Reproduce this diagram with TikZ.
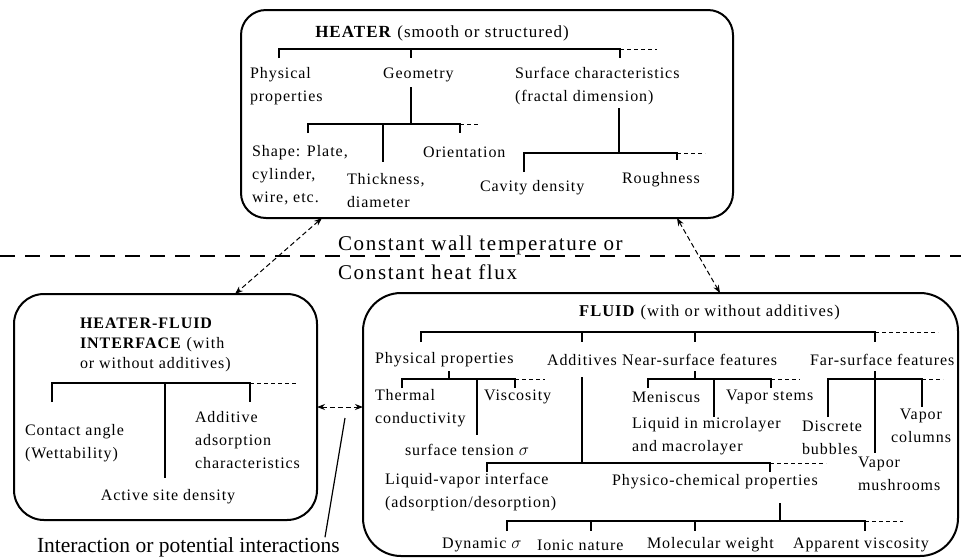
\documentclass[tikz,border=0pt]{standalone}
\usepackage{fontspec}
\setmainfont{Liberation Serif}[LetterSpace=6]
\newfontfamily\widefont{Liberation Serif}[LetterSpace=8]
\newfontfamily\plainfont{Liberation Serif}
\usetikzlibrary{arrows.meta,calc}
\begin{document}
\begin{tikzpicture}[x=1pt,y=-1pt,
  every node/.style={inner sep=0pt, outer sep=0pt},
  txt/.style={font=\fontsize{16}{23}\selectfont, align=left, anchor=west},
  ctxt/.style={font=\fontsize{16}{23}\selectfont, align=center},
  bigtxt/.style={font=\widefont\fontsize{21}{29}\selectfont, align=left, anchor=west},
  intertxt/.style={font=\plainfont\fontsize{21.5}{26}\selectfont, anchor=west},
  boxstyle/.style={draw, line width=2pt, rounded corners=#1},
  tree/.style={line width=1.1pt},
  treedash/.style={line width=0.9pt, dash pattern=on 4pt off 3pt},
  sep/.style={line width=2pt, dash pattern=on 15pt off 10pt},
  biarrow/.style={line width=1pt, dash pattern=on 5pt off 3pt,
    {Stealth[length=8pt,width=6pt]}-{Stealth[length=8pt,width=6pt]}},
]
\useasboundingbox (0,0) rectangle (961,558);

% boxes
\node[boxstyle=25pt, minimum width=492pt, minimum height=208pt] (heater) at (487,114) {};
\node[boxstyle=30pt, minimum width=303pt, minimum height=226pt] (iface) at (165.5,407) {};
\node[boxstyle=38pt, minimum width=595pt, minimum height=263pt] (fluid) at (660.5,424.5) {};

% separator
\coordinate (sepL) at (0,256);
\coordinate (sepR) at (961,256);
\draw[sep] (sepL) -- (sepR);

% arrows between boxes
\draw[biarrow] ([xshift=81pt]heater.south west) -- ([xshift=221pt]iface.north west);
\draw[biarrow] ([xshift=436pt]heater.south west) -- ([xshift=357pt]fluid.north west);
\draw[biarrow] (iface.east) -- (iface.east -| fluid.west);

% ---------- HEATER box texts ----------
\node[ctxt, font=\fontsize{17}{23}\selectfont] (htitle) at (442,33) {\textbf{HEATER} (smooth or structured)};
\node[txt] (hphys) at (250,86.5) {Physical\\properties};
\node[txt] (hgeo) at (383,75) {Geometry};
\node[txt] (hsurf) at (515,86.5) {Surface characteristics\\(fractal dimension)};
\node[txt] (hshape) at (252,175) {Shape: Plate,\\cylinder,\\wire, etc.};
\node[txt] (hthick) at (347,191) {Thickness,\\diameter};
\node[txt] (horient) at (423,152) {Orientation};
\node[txt] (hcav) at (480,188) {Cavity density};
\node[txt] (hrough) at (622,180) {Roughness};

% HEATER tree
\draw[tree] (279,58) -- (279,49) -- (620,49) -- (620,58);
\draw[tree] (411,49) -- (411,58);
\draw[treedash] (620,49) -- (657,49);
\draw[tree] (411,87) -- (411,124);
\draw[tree] (308,133) -- (308,124) -- (460,124) -- (460,133);
\draw[tree] (383,124) -- (383,162);
\draw[treedash] (460,124) -- (478,124);
\draw[tree] (619,108) -- (619,153);
\draw[tree] (524,172) -- (524,153) -- (677,153) -- (677,160);
\draw[treedash] (677,153) -- (705,153);

% boundary condition text
\node[bigtxt] (bc) at (338,257.5) {Constant wall temperature or\\Constant heat flux};

% ---------- INTERFACE box ----------
\node[txt, font=\fontsize{16}{20}\selectfont] (ititle) at (80,345) {\textbf{HEATER-FLUID}\\\textbf{INTERFACE} (with\\or without additives)};
\node[txt] (icont) at (25,443) {Contact angle\\(Wettability)};
\node[txt] (iadd) at (195,440) {Additive\\adsorption\\characteristics};
\node[ctxt] (iact) at (168,497) {Active site density};
\draw[tree] (52,402) -- (52,383) -- (250,383) -- (250,402);
\draw[tree] (165,383) -- (165,478);
\draw[treedash] (250,383) -- (297,383);

\node[intertxt] (inter) at (37,547) {Interaction or potential interactions};
\coordinate (ptr) at (345,418);
\draw[line width=1.2pt] (ptr) -- ([xshift=288pt]inter.north west);

% ---------- FLUID box ----------
\node[ctxt, font=\fontsize{16.5}{23}\selectfont] (ftitle) at (709.5,313) {\textbf{FLUID} (with or without additives)};
\node[txt] (fphys) at (375,360) {Physical properties};
\node[txt] (fadd) at (547,360) {Additives};
\node[txt] (fnear) at (622,360) {Near-surface features};
\node[txt] (ffar) at (810,360) {Far-surface features};
\node[txt] (ftherm) at (375,408.5) {Thermal\\conductivity};
\node[txt] (fvisc) at (484,397) {Viscosity};
\node[txt] (fst) at (405,450) {surface tension $\sigma$};
\node[txt] (fmen) at (632,397) {Meniscus};
\node[txt] (fstem) at (726,397) {Vapor stems};
\node[txt] (fliq) at (632,436.5) {Liquid in microlayer\\and macrolayer};
\node[txt] (fdisc) at (802,437.5) {Discrete\\bubbles};
\node[ctxt] (fcol) at (921,425.5) {Vapor\\columns};
\node[txt] (fmush) at (858,473.5) {Vapor\\mushrooms};
\node[txt] (flv) at (385,492.5) {Liquid-vapor interface\\(adsorption/desorption)};
\node[txt] (fpc) at (612,482) {Physico-chemical properties};
\node[txt] (fdyn) at (442,545) {Dynamic $\sigma$};
\node[txt] (fion) at (537,545) {Ionic nature};
\node[txt] (fmol) at (647,545) {Molecular weight};
\node[txt] (fapp) at (793,545) {Apparent viscosity};

% FLUID tree
\draw[tree] (421,342) -- (421,332) -- (875,332) -- (875,342);
\draw[tree] (582,332) -- (582,342);
\draw[tree] (695,332) -- (695,342);
\draw[treedash] (875,332) -- (938,332);
% physical properties
\draw[tree] (449,371) -- (449,379);
\draw[tree] (402,388) -- (402,379) -- (515,379) -- (515,388);
\draw[tree] (477,379) -- (477,435);
\draw[treedash] (515,379) -- (545,379);
% additives
\draw[tree] (582,377) -- (582,463);
\draw[tree] (487,472) -- (487,463) -- (770,463) -- (770,472);
\draw[treedash] (770,463) -- (826,463);
\draw[tree] (780,503) -- (780,521);
\draw[tree] (507,531) -- (507,521) -- (865,521) -- (865,531);
\draw[tree] (591,521) -- (591,531);
\draw[tree] (695,521) -- (695,531);
\draw[treedash] (865,521) -- (903,521);
% near-surface
\draw[tree] (695,371) -- (695,379);
\draw[tree] (648,388) -- (648,379) -- (771,379) -- (771,388);
\draw[tree] (714,379) -- (714,417);
\draw[treedash] (771,379) -- (800,379);
% far-surface
\draw[tree] (875,371) -- (875,453);
\draw[tree] (828,417) -- (828,379) -- (922,379) -- (922,407);
\draw[treedash] (922,379) -- (943,379);
\end{tikzpicture}
\end{document}
